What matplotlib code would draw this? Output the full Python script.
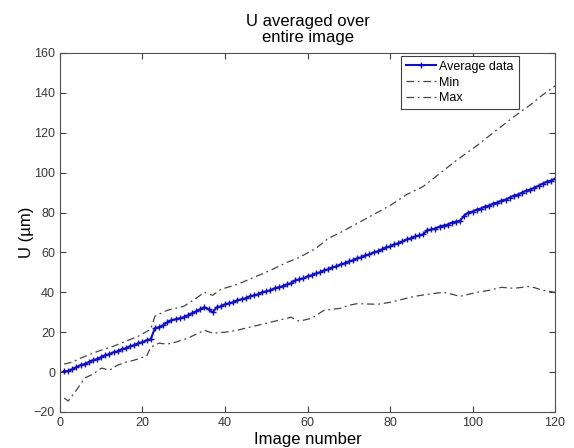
import matplotlib.pyplot as plt
import numpy as np

plt.rcParams['font.family'] = ['Liberation Sans', 'DejaVu Sans']

# average displacement for each image (1..120)
avg_u = [0.5, 0.5, 1.5, 2.5, 3.5, 4, 5, 6, 6.5, 7.5,
         8.5, 9, 10, 10.5, 11.5, 12, 13, 13.5, 14.5, 15,
         16, 16.5, 22, 22.5, 23.5, 25, 26, 26.5, 27, 27.5,
         28.5, 29.5, 30.5, 31.5, 32.5, 31.5, 30, 32.5, 33, 34,
         34.5, 35, 36, 36.5, 37, 38, 38.5, 39, 40, 40.5,
         41, 42, 42.5, 43, 44, 44.5, 46, 46.5, 47, 48,
         48.5, 49.5, 50, 51, 51.5, 52.5, 53, 54, 54.5, 55.5,
         56, 57, 57.5, 58.5, 59, 60, 60.5, 61.5, 62.5, 63,
         64, 64.5, 65.5, 66.5, 67, 68, 68.5, 69, 71, 71.5,
         72, 73, 73.5, 74, 75, 75.5, 76, 78.5, 80, 80.5,
         81.5, 82, 83, 83.5, 84.5, 85, 86, 86.5, 87.5, 88.5,
         89, 90, 91, 91.5, 92.5, 93.5, 94.5, 95.5, 96, 97]
images = np.arange(1, len(avg_u) + 1)

max_x = [1, 3, 5, 8, 10, 13, 16, 19, 22, 23, 26, 30, 33, 35, 37, 39, 43, 47,
         51, 55, 58, 62, 65, 68, 72, 76, 80, 84, 88, 92, 96, 101, 105, 110,
         114, 117, 120]
max_u = [4, 5, 7, 9.5, 11, 13, 15.5, 18, 21.5, 28, 31, 33, 37, 40, 38.5, 41.5,
         44, 47.5, 51, 55, 57.5, 62, 67, 70, 74.5, 79, 83.5, 89, 93, 99.5, 106,
         113.5, 120, 128, 134, 139, 143.5]

min_x = [1, 2, 4, 6, 8, 10, 12, 14, 16, 18, 21, 22, 24, 26, 28, 31, 33, 35,
         37, 40, 43, 46, 51, 54, 56, 58, 61, 64, 68, 70, 72, 77, 80, 83, 86,
         89, 93, 97, 101, 104, 107, 110, 114, 117, 120]
min_u = [-13, -14.5, -9, -3, -1, 2, 1, 3.5, 5, 6, 8, 12.5, 14.5, 14, 15, 17,
         19, 21, 19.5, 20, 21, 22.5, 25, 26.5, 27.5, 25.5, 27, 31, 32, 33.5,
         34.3, 34, 35, 36.5, 38, 39, 40, 38, 40, 41, 42.5, 42, 43, 41, 40]

fig = plt.figure(figsize=(5.74, 4.48), dpi=100)
ax = fig.add_axes([0.1045, 0.0804, 0.8625, 0.8013])

ax.plot(images, avg_u, color='#1010c0', lw=1.5, marker='+', ms=5, mew=1.0,
        label='Average data')
ax.plot(min_x, min_u, color='#454545', lw=0.9, dashes=(6, 3, 1.5, 3),
        label='Min')
ax.plot(max_x, max_u, color='#454545', lw=0.9, dashes=(6, 3, 1.5, 3),
        label='Max')

ax.set_xlim(0, 120)
ax.set_ylim(-20, 160)
ax.set_xticks(np.arange(0, 121, 20))
ax.set_yticks(np.arange(-20, 161, 20))
ax.tick_params(direction='in', top=True, right=True, labelsize=9,
               colors='#404040', labelcolor='#383838', length=4)
for s in ax.spines.values():
    s.set_color('#505050')

ax.set_title('U averaged over\nentire image', fontsize=12, linespacing=1.1,
             pad=8)
ax.set_xlabel('Image number', fontsize=12, labelpad=2)
ax.set_ylabel('U (\u00b5m)', fontsize=12, labelpad=0)

leg = ax.legend(loc='upper right', bbox_to_anchor=(0.927, 0.992), fontsize=9,
                fancybox=False, framealpha=1, edgecolor='#404040',
                handlelength=2.4, borderpad=0.4, labelspacing=0.3,
                handletextpad=0.3, borderaxespad=0)
leg.get_frame().set_linewidth(0.8)

fig.savefig('out.png', dpi=100)
